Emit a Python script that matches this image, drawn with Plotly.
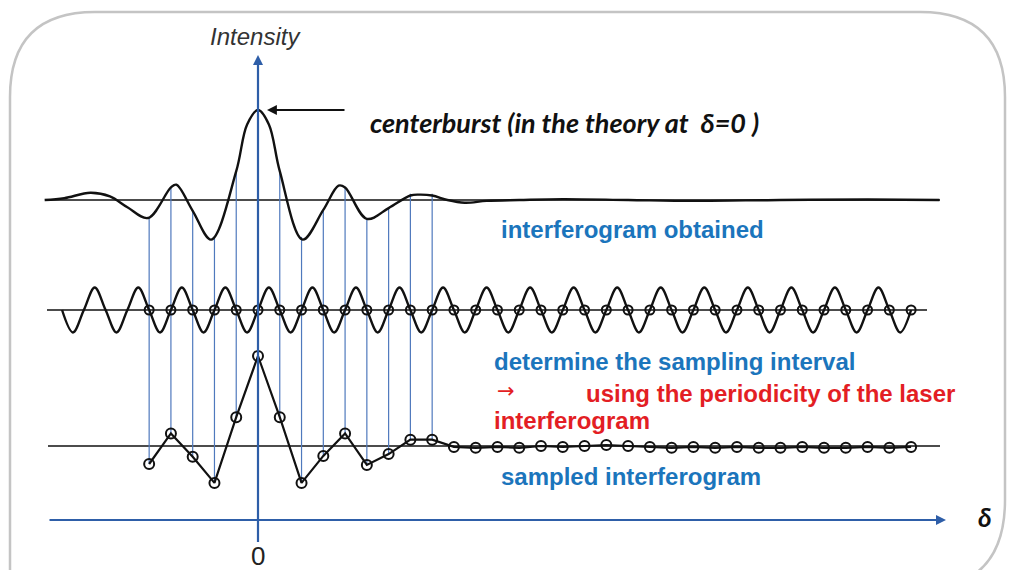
import numpy as np
import plotly.graph_objects as go

W, H = 1012, 570

# ---------------- data ----------------
# sample positions (in units of the sampling interval, delta)
sample_k = list(range(-5, 31))
# sampled interferogram values (relative to baseline, centerburst = 1)
sample_vals = [-0.20, 0.14, -0.12, -0.41, 0.32, 1.00, 0.32, -0.41, -0.11, 0.14,
               -0.21, -0.09, 0.07, 0.07,
               -0.01, -0.02, -0.01, -0.02, 0.00, -0.01, 0.00, 0.01, 0.00, -0.01,
               -0.02, -0.01, -0.02, -0.01, -0.02, -0.02, -0.01, -0.02, -0.02,
               -0.01, -0.02, -0.01]

# continuous interferogram (top row)
ifg_delta = [-9.8, -8.9, -7.7, -6.8, -6.0, -5.05, -4.0, -3.75, -3.0, -2.15, -1.0,
             -0.5, 0.0, 0.5, 1.0, 2.05, 3.0, 3.7, 4.0, 5.0, 6.0, 7.0, 7.4, 8.0,
             8.7, 9.5, 10.5, 12.0, 14.0, 17.0, 20.0, 24.0, 28.0, 31.3]
ifg_vals = [0.00, 0.02, 0.08, 0.04, -0.08, -0.20, 0.14, 0.17, -0.12, -0.44, 0.32,
            0.84, 1.00, 0.84, 0.32, -0.44, -0.11, 0.16, 0.14, -0.21, -0.09, 0.05,
            0.06, 0.05, 0.00, -0.03, -0.01, 0.00, 0.01, 0.00, -0.01, 0.00, 0.005, 0.00]

# laser interferogram (middle row), values at every half sampling interval
laser_start, laser_step = -9.0, 0.5
laser_vals = [0, -0.25, 0, 0.25, 0, -0.25, 0, 0.25, 0, -0.25, 0, 0.25, 0, -0.25,
              0, 0.25, 0, -0.25, 0, 0.25, 0, -0.25, 0, 0.25, 0, -0.25, 0, 0.25,
              0, -0.25, 0, 0.25, 0, -0.25, 0, 0.25, 0, -0.25, 0, 0.25, 0, -0.25,
              0, 0.25, 0, -0.25, 0, 0.25, 0, -0.25, 0, 0.25, 0, -0.25, 0, 0.25,
              0, -0.25, 0, 0.25, 0, -0.25, 0, 0.25, 0, -0.25, 0, 0.25, 0, -0.25,
              0, 0.25, 0, -0.25, 0, 0.25, 0, -0.25, 0]

# sampling lines drawn down from the interferogram
n_lines_k = list(range(-5, 9))

# ---------------- layout constants ----------------
PX_PER_DELTA = 21.77
X0_PX = 258.0
PX_PER_UNIT = 90.0
TOP_BASE = (H - 200) / PX_PER_UNIT
LASER_BASE = (H - 310) / PX_PER_UNIT
SAMP_BASE = (H - 446) / PX_PER_UNIT

def dx(px):
    return (px - X0_PX) / PX_PER_DELTA

def dy(py):
    return (H - py) / PX_PER_UNIT

def pxp(px):
    return px / W

def pyp(py):
    return 1 - py / H

BLACK = "#111111"
AXIS_BLUE = "#2E5EA8"
LINE_BLUE = "#4F79BD"
TEXT_BLUE = "#1B75BC"
TEXT_RED = "#E31E24"

fig = go.Figure()

# baselines
for (a, b, base) in [(45, 940, TOP_BASE), (47, 927, LASER_BASE), (48, 940, SAMP_BASE)]:
    fig.add_trace(go.Scatter(x=[dx(a), dx(b)], y=[base, base], mode="lines",
                             line=dict(color=BLACK, width=1.3), hoverinfo="skip"))

# vertical sampling lines
vx, vy = [], []
for k in n_lines_k:
    if k == 0:
        continue
    v = sample_vals[sample_k.index(k)]
    vx += [k, k, None]
    vy += [TOP_BASE + v, SAMP_BASE + v, None]
fig.add_trace(go.Scatter(x=vx, y=vy, mode="lines",
                         line=dict(color=LINE_BLUE, width=1.2), hoverinfo="skip"))

# top interferogram
fig.add_trace(go.Scatter(x=ifg_delta, y=[TOP_BASE + v for v in ifg_vals], mode="lines",
                         line=dict(color=BLACK, width=2.4, shape="spline", smoothing=1.0),
                         hoverinfo="skip"))

# laser
laser_x = [laser_start + i * laser_step for i in range(len(laser_vals))]
fig.add_trace(go.Scatter(x=laser_x, y=[LASER_BASE + v for v in laser_vals], mode="lines",
                         line=dict(color=BLACK, width=2.4, shape="spline", smoothing=1.0),
                         hoverinfo="skip"))
fig.add_trace(go.Scatter(x=sample_k, y=[LASER_BASE] * len(sample_k), mode="markers",
                         marker=dict(symbol="circle-open", size=9, color=BLACK,
                                     line=dict(width=2)), hoverinfo="skip"))

# sampled interferogram
fig.add_trace(go.Scatter(x=sample_k, y=[SAMP_BASE + v for v in sample_vals], mode="lines+markers",
                         line=dict(color=BLACK, width=2.2),
                         marker=dict(symbol="circle-open", size=10, color=BLACK,
                                     line=dict(width=2)), hoverinfo="skip"))

# y axis line (through delta = 0)
fig.add_trace(go.Scatter(x=[0, 0], y=[dy(542), dy(60)], mode="lines",
                         line=dict(color=AXIS_BLUE, width=2.2), hoverinfo="skip"))

# border (rounded frame, lower-left corner runs off the picture)
r, r2 = 85, 90
L, T, R, B = 10, 12, 1005, 590
path = (f"M {pxp(L)},{pyp(T + r)} Q {pxp(L)},{pyp(T)} {pxp(L + r)},{pyp(T)} "
        f"L {pxp(R - r)},{pyp(T)} Q {pxp(R)},{pyp(T)} {pxp(R)},{pyp(T + r)} "
        f"L {pxp(R)},{pyp(B - r2)} Q {pxp(R)},{pyp(B)} {pxp(R - r2)},{pyp(B)} "
        f"L {pxp(L)},{pyp(B)} Z")
fig.add_shape(type="path", path=path, xref="paper", yref="paper",
              line=dict(color="#C4C4C4", width=2.5), layer="below")

annotations = []
# x axis arrow
annotations.append(dict(x=pxp(946), y=pyp(520), xref="paper", yref="paper",
                        ax=-(946 - 48), ay=0, showarrow=True, arrowhead=2, arrowsize=1.0,
                        arrowwidth=2, arrowcolor=AXIS_BLUE, text=""))
# y axis arrowhead
annotations.append(dict(x=0, y=dy(55), xref="x", yref="y", ax=0, ay=30,
                        showarrow=True, arrowhead=2, arrowsize=1.0, arrowwidth=2,
                        arrowcolor=AXIS_BLUE, text=""))
# centerburst arrow
annotations.append(dict(x=dx(267), y=dy(110), xref="x", yref="y", ax=(346 - 267), ay=0,
                        showarrow=True, arrowhead=2, arrowsize=1.1, arrowwidth=1.8,
                        arrowcolor=BLACK, text=""))

def txt(s, x, y, color, size, family="Liberation Sans", bold=True, italic=False, anchor="left"):
    t = s
    if bold:
        t = f"<b>{t}</b>"
    if italic:
        t = f"<i>{t}</i>"
    annotations.append(dict(text=t, x=pxp(x), y=pyp(y), xref="paper", yref="paper",
                            xanchor=anchor, yanchor="middle", showarrow=False,
                            font=dict(family=family, size=size, color=color)))

txt("Intensity", 255, 37, "#333333", 24, bold=False, italic=True, anchor="center")
txt("0", 258, 556, "#222222", 26, family="Liberation Sans", bold=False, anchor="center")
txt("δ", 985, 517, BLACK, 26, family="Lato", bold=True, italic=True, anchor="center")
txt("centerburst (in the theory at&nbsp;&nbsp;δ=0 )", 368, 122, BLACK, 27,
    family="Lato", bold=True, italic=True)
txt("interferogram obtained", 499, 229, TEXT_BLUE, 24)
txt("determine the sampling interval", 492, 361, TEXT_BLUE, 24)
txt("→", 506, 391, TEXT_RED, 21, family="DejaVu Sans", bold=False, anchor="center")
txt("using the periodicity of the laser", 584, 393, TEXT_RED, 24)
txt("interferogram", 492, 420, TEXT_RED, 24)
txt("sampled interferogram", 499, 476, TEXT_BLUE, 24)

fig.update_layout(
    width=W, height=H,
    margin=dict(l=0, r=0, t=0, b=0),
    paper_bgcolor="white", plot_bgcolor="white",
    showlegend=False,
    xaxis=dict(range=[dx(0), dx(W)], visible=False, fixedrange=True),
    yaxis=dict(range=[dy(H), dy(0)], visible=False, fixedrange=True),
    annotations=annotations,
)

fig.write_html("out.html")
